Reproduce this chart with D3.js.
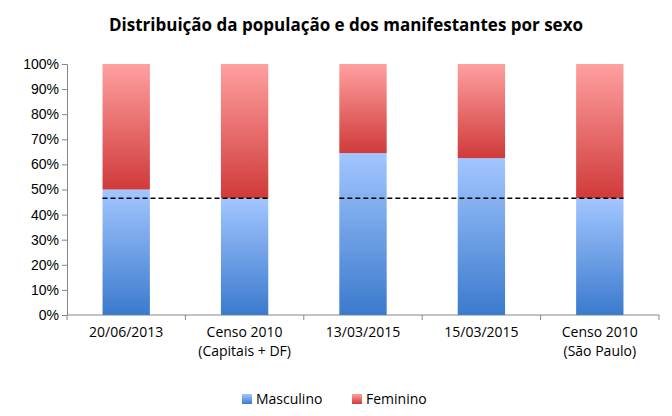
<!DOCTYPE html>
<html><head><meta charset="utf-8">
<script src="https://cdn.jsdelivr.net/npm/d3@7"></script>
<style>body{margin:0;background:#fff;font-family:"Open Sans",sans-serif;}</style>
</head><body><div id="chart"></div>
<script>
const categories = [["20/06/2013"], ["Censo 2010", "(Capitais + DF)"], ["13/03/2015"], ["15/03/2015"], ["Censo 2010", "(São Paulo)"]];
const masculino = [50, 46.5, 64.5, 62.5, 46.5];
const feminino = masculino.map(v => 100 - v);
const refLines = [[0, 1, 46.5], [2, 4, 46.5]];
const ticks = d3.range(0, 101, 10);

const W = 672, H = 416, m = {l: 67, r: 13, t: 64, b: 101};
const svg = d3.select("#chart").append("svg").attr("width", W).attr("height", H);
const defs = svg.append("defs");
function grad(id, top, bottom) {
  const g = defs.append("linearGradient").attr("id", id).attr("x1", 0).attr("y1", 0).attr("x2", 0).attr("y2", 1);
  g.append("stop").attr("offset", "0%").attr("stop-color", top);
  g.append("stop").attr("offset", "100%").attr("stop-color", bottom);
}
grad("gb", "#a2c6ff", "#3b7acd");
grad("gr", "#ffa0a0", "#d03a3a");

const x = d3.scaleBand().domain(d3.range(categories.length)).range([m.l, W - m.r]).paddingInner(0.6).paddingOuter(0.3);
const y = d3.scaleLinear().domain([0, 100]).range([H - m.b, m.t]);

svg.append("text").attr("x", W / 2 + 10).attr("y", 31).attr("text-anchor", "middle")
  .style("font-size", "17px").style("font-weight", "bold").text("Distribuição da população e dos manifestantes por sexo");

const ya = svg.append("g").attr("transform", `translate(${m.l},0)`)
  .call(d3.axisLeft(y).tickValues(ticks).tickFormat(d => d + "%").tickSize(5));
ya.selectAll("text").style("font-size", "14px").attr("fill", "#000");
ya.selectAll("line,path").attr("stroke", "#868686");

const band = W - m.r - m.l;
const xa = svg.append("g").attr("transform", `translate(0,${H - m.b})`);
xa.append("line").attr("x1", m.l).attr("x2", W - m.r).attr("stroke", "#868686");
d3.range(categories.length + 1).forEach(i => {
  const xx = m.l + i * band / categories.length;
  xa.append("line").attr("x1", xx).attr("x2", xx).attr("y2", 5).attr("stroke", "#868686");
});
categories.forEach((c, i) => {
  const t = xa.append("text").attr("x", x(i) + x.bandwidth() / 2).attr("y", 22).attr("text-anchor", "middle").style("font-size", "14px");
  c.forEach((s, j) => t.append("tspan").attr("x", x(i) + x.bandwidth() / 2).attr("dy", j ? 19 : 0).text(s));
});

svg.selectAll(".m").data(masculino).join("rect")
  .attr("x", (d, i) => x(i)).attr("width", x.bandwidth())
  .attr("y", d => y(d)).attr("height", d => y(0) - y(d)).attr("fill", "url(#gb)");
svg.selectAll(".f").data(feminino).join("rect")
  .attr("x", (d, i) => x(i)).attr("width", x.bandwidth())
  .attr("y", y(100)).attr("height", d => y(0) - y(d)).attr("fill", "url(#gr)");

refLines.forEach(([a, b, v]) => {
  svg.append("line").attr("x1", x(a)).attr("x2", x(b) + x.bandwidth())
    .attr("y1", y(v)).attr("y2", y(v)).attr("stroke", "#000").attr("stroke-width", 1.5).attr("stroke-dasharray", "5,3");
});

const leg = [["Masculino", "url(#gb)", 242], ["Feminino", "url(#gr)", 352]];
leg.forEach(([n, f, lx]) => {
  svg.append("rect").attr("x", lx).attr("y", 394).attr("width", 10).attr("height", 10).attr("fill", f);
  svg.append("text").attr("x", lx + 14).attr("y", 404).style("font-size", "14px").text(n);
});
</script></body></html>
